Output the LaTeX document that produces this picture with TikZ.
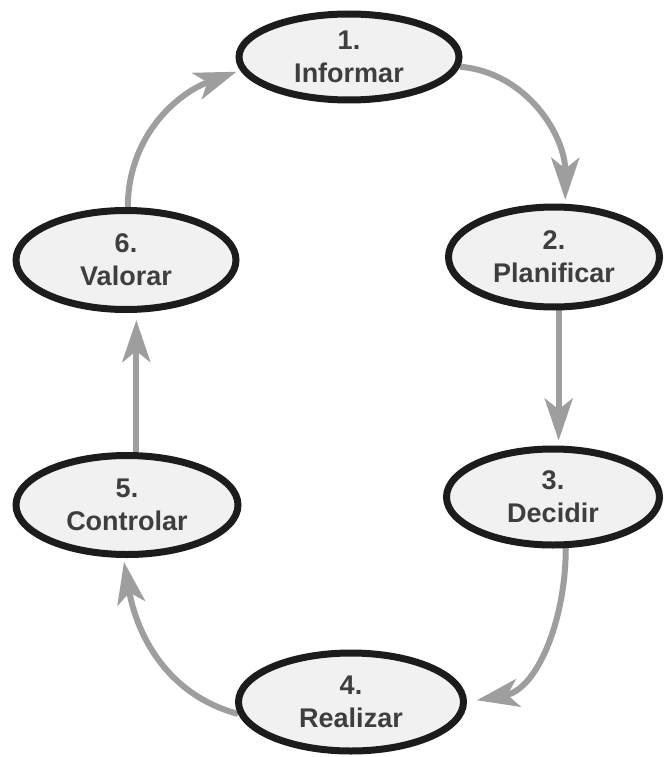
\documentclass[tikz,border=0pt]{standalone}
\usepackage{fontspec}
\setmainfont{Liberation Sans}
\usetikzlibrary{shapes.geometric,arrows.meta}
\definecolor{edgec}{HTML}{1C1C1C}
\definecolor{arrc}{HTML}{9E9E9E}
\definecolor{txtc}{HTML}{3E3E3E}
\definecolor{fillc}{HTML}{F1F1F1}
\pgfdeclarelayer{bg}
\pgfsetlayers{bg,main}
\begin{document}
\begin{tikzpicture}[x=1pt,y=-1pt,
  stage/.style={ellipse, draw=edgec, line width=7pt, fill=fillc, text=txtc,
    font=\fontsize{27}{33}\selectfont\bfseries, align=center, inner sep=0pt},
  flow/.style={draw=arrc, line width=6pt,
    -{Stealth[length=42pt,width=28pt,inset=11pt]}, shorten >=4pt}]
\useasboundingbox (0,0) rectangle (666,757);
\node[stage, minimum width=220pt, minimum height=86pt] (n1) at (349,57) {1.\\Informar};
\node[stage, minimum width=211pt, minimum height=100pt] (n2) at (554,257) {2.\\Planificar};
\node[stage, minimum width=213pt, minimum height=96pt] (n3) at (553,497) {3.\\Decidir};
\node[stage, minimum width=225pt, minimum height=98pt] (n4) at (351,702) {4.\\Realizar};
\node[stage, minimum width=222pt, minimum height=99pt] (n5) at (127,505) {5.\\Controlar};
\node[stage, minimum width=220pt, minimum height=99pt] (n6) at (126,260) {6.\\Valorar};
\begin{pgfonlayer}{bg}
\draw[flow] (n1.-5) to[out=-5,in=90] (n2.78);
\draw[flow, shorten >=5pt] (n2.-85) -- (n2.-85 |- n3.north);
\draw[flow, shorten >=10pt] (n3.-76) to[out=-90,in=10] (n4.east);
\draw[flow] (n4.186) to[out=165,in=-80] (n5.-94);
\draw[flow, shorten >=7pt] (n5.80) -- (n5.80 |- n6.south);
\draw[flow] (n6.88) to[out=90,in=200] (n1.187);
\end{pgfonlayer}
\end{tikzpicture}
\end{document}
